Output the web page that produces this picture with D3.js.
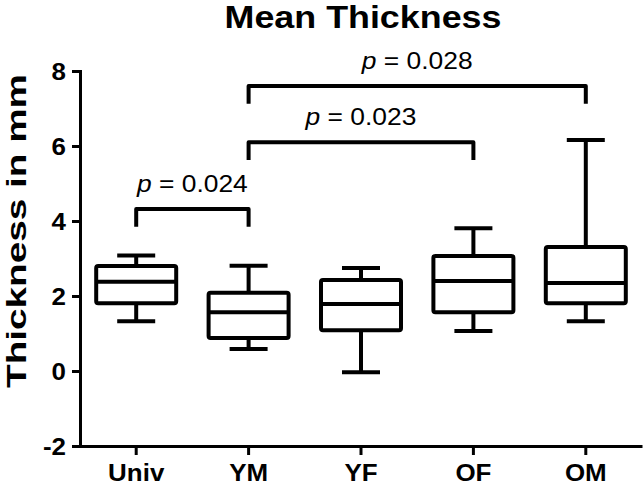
<!DOCTYPE html>
<html>
<head>
<meta charset="utf-8">
<script src="https://cdn.jsdelivr.net/npm/d3@7"></script>
<style>
  body { margin: 0; background: #fff; }
  text { font-family: "Liberation Sans", Arial, sans-serif; fill: #000; }
</style>
</head>
<body>
<div id="chart"></div>
<script>
// data
var groups = ["Univ", "YM", "YF", "OF", "OM"];
var whiskerLow  = [1.33, 0.59, -0.03, 1.07, 1.33];
var q1          = [1.81, 0.88, 1.09, 1.57, 1.81];
var median      = [2.38, 1.57, 1.79, 2.40, 2.35];
var q3          = [2.80, 2.09, 2.43, 3.07, 3.31];
var whiskerHigh = [3.08, 2.81, 2.75, 3.81, 6.16];

var yTicks = [-2, 0, 2, 4, 6, 8];

// significance brackets
var compFrom = ["Univ", "YM", "YM"];
var compTo   = ["YM", "OF", "OM"];
var compY    = [4.32, 6.10, 7.60];
var compP    = ["0.024", "0.023", "0.028"];

var W = 644, H = 487;
var margin = {left: 80, right: 2, top: 71, bottom: 41};

var svg = d3.select("#chart").append("svg")
    .attr("width", W)
    .attr("height", H);

var x = d3.scaleBand().domain(groups).range([margin.left, W - margin.right]);
var y = d3.scaleLinear().domain([-2, 8]).range([H - margin.bottom, margin.top]);

var cx = function(g) { return x(g) + x.bandwidth() / 2; };

// the text in the picture is a bit wider than Arial, stretch it
function stretch(sel, k) {
    sel.each(function() {
        var w = this.getComputedTextLength();
        d3.select(this).attr("textLength", w * k).attr("lengthAdjust", "spacingAndGlyphs");
    });
}

// title
svg.append("text")
    .attr("x", 363).attr("y", 28)
    .attr("text-anchor", "middle")
    .style("font-size", "32px").style("font-weight", "bold")
    .text("Mean Thickness")
    .call(stretch, 1.12);

// y axis label
svg.append("text")
    .attr("transform", "translate(26,231) rotate(-90)")
    .attr("text-anchor", "middle")
    .style("font-size", "28px").style("font-weight", "bold")
    .text("Thickness in mm")
    .call(function(s) { s.attr("textLength", 314).attr("lengthAdjust", "spacingAndGlyphs"); });

// axes
var yAxis = svg.append("g")
    .attr("transform", "translate(" + margin.left + ",0)")
    .call(d3.axisLeft(y).tickValues(yTicks).tickSize(8).tickPadding(6)
        .tickFormat(function(d) { return String(d); }));

var xAxis = svg.append("g")
    .attr("transform", "translate(0," + (H - margin.bottom) + ")")
    .call(d3.axisBottom(x).tickSize(9).tickSizeOuter(0).tickPadding(9));

[xAxis, yAxis].forEach(function(a) {
    a.select(".domain").attr("stroke", "#000").attr("stroke-width", 3);
    a.selectAll(".tick line").attr("stroke", "#000").attr("stroke-width", 3);
    a.selectAll(".tick text")
        .attr("font-family", null)
        .style("font-size", "24px").style("font-weight", "bold")
        .call(stretch, 1.08);
});
yAxis.selectAll(".tick text").attr("dy", "0.36em");
xAxis.selectAll(".tick text").attr("dy", "0.7em");

// boxes
var boxW = 80, capW = 38;
var boxes = svg.append("g")
    .attr("fill", "none")
    .attr("stroke", "#000")
    .attr("stroke-width", 4)
    .attr("stroke-linejoin", "round");

groups.forEach(function(g, i) {
    var c = cx(g);
    var b = boxes.append("g");
    // whiskers
    b.append("line").attr("x1", c).attr("x2", c).attr("y1", y(q3[i])).attr("y2", y(whiskerHigh[i]));
    b.append("line").attr("x1", c).attr("x2", c).attr("y1", y(q1[i])).attr("y2", y(whiskerLow[i]));
    b.append("line").attr("x1", c - capW / 2).attr("x2", c + capW / 2)
        .attr("y1", y(whiskerHigh[i])).attr("y2", y(whiskerHigh[i]));
    b.append("line").attr("x1", c - capW / 2).attr("x2", c + capW / 2)
        .attr("y1", y(whiskerLow[i])).attr("y2", y(whiskerLow[i]));
    // box and median
    b.append("rect")
        .attr("x", c - boxW / 2).attr("width", boxW)
        .attr("y", y(q3[i])).attr("height", y(q1[i]) - y(q3[i]))
        .attr("fill", "#fff").attr("rx", 2);
    b.append("line").attr("x1", c - boxW / 2).attr("x2", c + boxW / 2)
        .attr("y1", y(median[i])).attr("y2", y(median[i]));
});

// brackets with p values
var legDrop = 0.47;
compFrom.forEach(function(f, i) {
    var x1 = cx(f), x2 = cx(compTo[i]), yy = y(compY[i]);
    svg.append("path")
        .attr("d", d3.line()([[x1, y(compY[i] - legDrop)], [x1, yy], [x2, yy], [x2, y(compY[i] - legDrop)]]))
        .attr("fill", "none").attr("stroke", "#000")
        .attr("stroke-width", 4).attr("stroke-linejoin", "round");

    var t = svg.append("text")
        .attr("x", (x1 + x2) / 2).attr("y", yy - 17)
        .attr("text-anchor", "middle")
        .style("font-size", "24px");
    t.append("tspan").style("font-style", "italic").text("p");
    t.append("tspan").text(" = " + compP[i]);
    t.call(stretch, 1.1);
});
</script>
</body>
</html>
